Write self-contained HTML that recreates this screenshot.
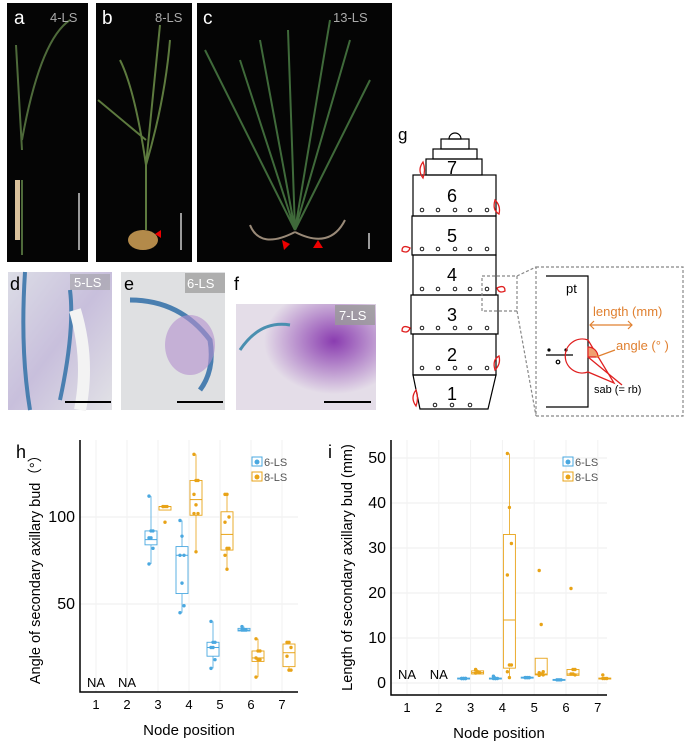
<!DOCTYPE html>
<html><head><meta charset="utf-8"><style>
body{margin:0;background:#fff;width:685px;height:742px;overflow:hidden;font-family:"Liberation Sans",sans-serif}
svg{position:absolute;left:0;top:0}
</style></head><body>
<svg width="685" height="742" viewBox="0 0 685 742">
<defs>
<linearGradient id="stain" x1="0" y1="0" x2="1" y2="1"><stop offset="0" stop-color="#dcdde6"/><stop offset="0.5" stop-color="#c8bfdc"/><stop offset="1" stop-color="#e2e2e6"/></linearGradient>
<radialGradient id="purp" cx="0.7" cy="0.35" r="0.5"><stop offset="0" stop-color="#8a3cb0"/><stop offset="1" stop-color="#e4dde8"/></radialGradient>
</defs>
<g><rect x="7" y="3" width="81" height="259" fill="#050505"/><path d="M22 255 L22 180 M22 150 L16 45 M22 140 Q40 40 70 20" stroke="#4e6a3a" stroke-width="2" fill="none"/><rect x="15" y="180" width="5" height="60" fill="#d9c09a"/><line x1="79" y1="193" x2="79" y2="250" stroke="#fff" stroke-width="1.2"/><text x="14" y="24" fill="#fff" font-size="19">a</text><text x="50" y="22" fill="#aaa" font-size="13">4-LS</text></g>
<g><rect x="96" y="3" width="96" height="259" fill="#050505"/><path d="M146 230 L146 165 L160 25 M146 165 Q135 90 120 60 M146 165 Q165 100 170 40 M146 140 Q110 110 98 100" stroke="#5d7a3e" stroke-width="2" fill="none"/><ellipse cx="143" cy="240" rx="15" ry="10" fill="#b38a4a"/><path d="M155 234 L161 230 L161 238Z" fill="#e00"/><line x1="181" y1="213" x2="181" y2="250" stroke="#fff" stroke-width="1.2"/><text x="102" y="24" fill="#fff" font-size="19">b</text><text x="155" y="22" fill="#aaa" font-size="13">8-LS</text></g>
<g><rect x="197" y="3" width="195" height="259" fill="#050505"/><path d="M295 230 L288 30 M295 230 L240 60 M295 230 L205 50 M295 230 L350 40 M295 230 L370 80 M295 230 L260 40 M295 230 L330 20" stroke="#3f6a3a" stroke-width="2" fill="none"/><path d="M295 232 Q260 250 250 225 M295 232 Q330 250 345 220" stroke="#9a8a78" stroke-width="2" fill="none"/><path d="M282 240 L290 244 L284 250Z M313 248 L318 240 L323 248Z" fill="#e00"/><line x1="369" y1="233" x2="369" y2="249" stroke="#fff" stroke-width="1.2"/><text x="203" y="24" fill="#fff" font-size="19">c</text><text x="333" y="22" fill="#aaa" font-size="13">13-LS</text></g>
<g><rect x="8" y="272" width="104" height="138" fill="url(#stain)"/><path d="M25 272 Q20 350 30 410 M70 290 Q75 330 60 400" stroke="#4a7fb0" stroke-width="4" fill="none"/><path d="M75 310 Q90 360 80 410" stroke="#f3f3f3" stroke-width="12" fill="none"/><rect x="70" y="274" width="40" height="16" fill="#999" opacity="0.5"/><text x="74" y="287" fill="#fff" font-size="13">5-LS</text><text x="10" y="290" font-size="18">d</text><line x1="65" y1="402" x2="111" y2="402" stroke="#000" stroke-width="2"/></g>
<g><rect x="121" y="272" width="104" height="138" fill="#dfe0e2"/><path d="M130 300 Q180 300 210 340 Q215 370 200 390" stroke="#4a7fb0" stroke-width="5" fill="none"/><ellipse cx="190" cy="345" rx="25" ry="30" fill="#b48fcf" opacity="0.6"/><rect x="185" y="273" width="40" height="20" fill="#999" opacity="0.7"/><text x="187" y="288" fill="#fff" font-size="13">6-LS</text><text x="124" y="290" font-size="18">e</text><line x1="177" y1="402" x2="223" y2="402" stroke="#000" stroke-width="2"/></g>
<g><rect x="236" y="304" width="140" height="106" fill="url(#purp)"/><path d="M240 350 Q260 320 290 325" stroke="#4a8fb0" stroke-width="3" fill="none"/><rect x="335" y="305" width="40" height="20" fill="#999" opacity="0.8"/><text x="339" y="320" fill="#fff" font-size="13">7-LS</text><text x="234" y="290" font-size="18">f</text><line x1="324" y1="402" x2="371" y2="402" stroke="#000" stroke-width="2"/></g>
<g stroke="#000" fill="none" stroke-width="1.2">
<text x="398" y="140" font-size="17" stroke="none" fill="#000">g</text>
<path d="M449 139 A6 6 0 0 1 461 139 Z"/>
<rect x="441" y="139" width="28" height="10"/><rect x="433" y="149" width="44" height="10"/><rect x="426" y="159" width="56" height="16"/>
<rect x="413" y="175" width="83" height="41"/><rect x="412" y="216" width="84" height="39"/><rect x="413" y="255" width="83" height="40"/><rect x="411" y="295" width="87" height="39"/><rect x="413" y="334" width="83" height="41"/>
<path d="M413 375 L496 375 L488 409 L420 409 Z"/>
<g stroke="none" fill="#000" font-size="18" text-anchor="middle"><text x="452" y="174">7</text><text x="452" y="202">6</text><text x="452" y="242">5</text><text x="452" y="281">4</text><text x="452" y="321">3</text><text x="452" y="361">2</text><text x="452" y="400">1</text></g>
<g stroke-width="0.9"><circle cx="422" cy="210" r="1.8"/><circle cx="438" cy="210" r="1.8"/><circle cx="455" cy="210" r="1.8"/><circle cx="470" cy="210" r="1.8"/><circle cx="487" cy="210" r="1.8"/>
<circle cx="422" cy="249" r="1.8"/><circle cx="438" cy="249" r="1.8"/><circle cx="455" cy="249" r="1.8"/><circle cx="470" cy="249" r="1.8"/><circle cx="487" cy="249" r="1.8"/>
<circle cx="422" cy="289" r="1.8"/><circle cx="438" cy="289" r="1.8"/><circle cx="455" cy="289" r="1.8"/><circle cx="470" cy="289" r="1.8"/><circle cx="487" cy="289" r="1.8"/>
<circle cx="422" cy="328" r="1.8"/><circle cx="438" cy="328" r="1.8"/><circle cx="455" cy="328" r="1.8"/><circle cx="470" cy="328" r="1.8"/><circle cx="487" cy="328" r="1.8"/>
<circle cx="422" cy="368" r="1.8"/><circle cx="438" cy="368" r="1.8"/><circle cx="455" cy="368" r="1.8"/><circle cx="470" cy="368" r="1.8"/><circle cx="487" cy="368" r="1.8"/>
<circle cx="435" cy="405" r="1.8"/><circle cx="452" cy="405" r="1.8"/><circle cx="470" cy="405" r="1.8"/></g>
<g stroke="#e02020" stroke-width="1.3"><path d="M423 162 q-6 8 0 16 q3 -8 0 -16Z"/><path d="M495 200 q-3 10 4 14 q2 -8 -4 -14Z"/><path d="M410 248 q-8 -4 -8 3 q6 3 8 -3Z"/><path d="M497 288 q8 -4 8 3 q-6 3 -8 -3Z"/><path d="M410 328 q-8 -4 -8 3 q6 3 8 -3Z"/><path d="M495 370 q-3 -10 4 -14 q2 8 -4 14Z"/><path d="M416 390 q-6 8 0 16 q3 -8 0 -16Z"/></g>
<g stroke="#888" stroke-dasharray="3,2"><rect x="482" y="276" width="35" height="35"/><rect x="536" y="267" width="147" height="149"/><line x1="517" y1="276" x2="536" y2="267"/><line x1="517" y1="311" x2="536" y2="416"/></g>
<path d="M546 276 L588 276 L588 407 L546 407"/>
<line x1="546" y1="355" x2="573" y2="355"/>
<circle cx="549" cy="350" r="1" fill="#000"/><circle cx="566" cy="350" r="1" fill="#000"/><circle cx="558" cy="362" r="1.8"/>
<path d="M588 340 A17 17 0 1 0 588 372 L614 383 Z" stroke="#e02020" stroke-width="1.3"/>
<path d="M588 347 L588 357 L598 357 A10 10 0 0 0 588 347Z" fill="#f0a070" stroke="#e02020"/>
<line x1="588" y1="357" x2="622" y2="385" stroke="#e02020" stroke-width="1.3"/>
<line x1="596" y1="357" x2="615" y2="350" stroke="#e08030"/>
<line x1="590" y1="325" x2="632" y2="325" stroke="#e08030"/><path d="M594 321 L590 325 L594 329 M628 321 L632 325 L628 329" stroke="#e08030"/>
<g stroke="none" font-size="13"><text x="566" y="293" fill="#000">pt</text><text x="593" y="316" fill="#e08030">length (mm)</text><text x="616" y="350" fill="#e08030">angle (°  )</text><text x="594" y="393" fill="#000" font-size="11">sab (= rb)</text></g>
</g>
<g id="charth"></g>
<g id="charti"></g>
</svg>
<script>
const nodes=[1,2,3,4,5,6,7];
const h6pts=[[],[],[112,92,92,88,88,82,73],[98,89,78,78,62,49,45],[40,28,28,25,25,18,13],[37,35,35,35],[]];
const h6box=[null,null,[84,87,92],[56,78,83],[20,25,28],[34.5,35,36],null];
const h6whisk=[null,null,[73,112],[45,98],[13,40],[35,37],null];
const h8pts=[[],[],[106,106,106,106,97],[136,121,121,113,107,102,102,80],[113,113,100,97,82,82,78,70],[30,23,23,19,18,18,8],[28,28,25,20,12,12]];
const h8box=[null,null,[104,106,106],[101,110,121],[81,90,103],[17,19,23],[14,22,27]];
const h8whisk=[null,null,[104,106],[80,136],[70,113],[8,30],[12,28]];
const hTicks=[50,100];
const i6pts=[[],[],[1,1,1,1,1,1],[1.5,1,1,1,1],[1.2,1.2,1.2,1.2,1.2,1.2],[0.7,0.7,0.7],[]];
const i6box=[null,null,[0.9,1,1.1],[0.9,1,1.1],[1.1,1.2,1.3],[0.6,0.7,0.8],null];
const i6whisk=[null,null,[1,1],[1,1.5],[1.2,1.2],[0.7,0.7],null];
const i8pts=[[],[],[3,2.5,2.3,2.2],[51,39,31,24,4,4,2.5,1.2],[25,13,2.5,2.3,2,1.8,1.7],[21,3,3,2,2,1.8],[1.8,1,1,1]];
const i8box=[null,null,[2,2.3,2.7],[3.3,14,33],[1.8,2,5.5],[1.7,2,3],[0.9,1,1.1]];
const i8whisk=[null,null,[2.2,3],[1.2,51],[1.7,5.5],[1.8,3],[1,1.1]];
const iTicks=[0,10,20,30,40,50];
const NS='http://www.w3.org/2000/svg';
function mk(p,tag,a,txt){const e=document.createElementNS(NS,tag);for(const k in a)e.setAttribute(k,a[k]);if(txt!==undefined)e.textContent=txt;p.appendChild(e);return e;}
function chart(g,o){
  const X=n=>o.x0+(n-1)*o.dx, Y=v=>o.y0-(v-o.vmin)*o.k;
  o.ticks.forEach(t=>{const l=mk(g,'line',{x1:o.ax,x2:o.right,y1:Y(t),y2:Y(t),stroke:'#eee'});
    
    
    const tx=mk(g,'text',{x:o.ax-5,y:Y(t)+5,'text-anchor':'end','font-size':16},t);
    
    });
  nodes.forEach(n=>{mk(g,'line',{x1:X(n),x2:X(n),y1:o.top,y2:o.bot,stroke:'#f2f2f2'});
    const tx=mk(g,'text',{x:X(n),y:o.bot+17,'text-anchor':'middle','font-size':13},n);
    
    });
  mk(g,'path',{d:`M${o.ax} ${o.top} L${o.ax} ${o.bot} L${o.right} ${o.bot}`,stroke:'#000','stroke-width':1.5,fill:'none'});
  [[o.b6,o.w6,o.p6,'#4aa8e0',-7],[o.b8,o.w8,o.p8,'#e8a317',7]].forEach(([bx,wk,pts,c,off])=>{
    nodes.forEach((n,i)=>{const cx=X(n)+off;
      if(bx[i]){const [q1,m,q3]=bx[i];const [lo,hi]=wk[i];
        mk(g,'line',{x1:cx,x2:cx,y1:Y(hi),y2:Y(lo),stroke:c,'stroke-width':0.8});
        const r=mk(g,'rect',{x:cx-6,y:Y(q3),width:12,height:Math.max(1,Y(q1)-Y(q3)),fill:'#fff',stroke:c,'stroke-width':0.9});
        
        
        mk(g,'line',{x1:cx-6,x2:cx+6,y1:Y(m),y2:Y(m),stroke:c});}
      pts[i].forEach((v,j)=>{const d=mk(g,'circle',{cx:cx+((j%3)-1)*2,cy:Y(v),r:1.7,fill:c});
        
        });
    });
  });
  [1,2].forEach(n=>mk(g,'text',{x:X(n),y:o.y0-4,'text-anchor':'middle','font-size':13},'NA'));
  const lg=mk(g,'g',{});
  
  
  [['6-LS','#4aa8e0'],['8-LS','#e8a317']].forEach(([t,c],i)=>{const y=o.top+22+i*15;
    mk(lg,'rect',{x:o.lx,y:y-5,width:10,height:9,fill:'#fff',stroke:c});mk(lg,'circle',{cx:o.lx+5,cy:y,r:2.5,fill:c});
    mk(lg,'text',{x:o.lx+12,y:y+4,'font-size':11,fill:'#555'},t);});
  const xt=mk(g,'text',{x:(o.ax+o.right)/2,y:o.bot+43,'text-anchor':'middle','font-size':15},'Node position');
  
  
  const yt=mk(g,'text',{transform:`translate(${o.ytx},${(o.top+o.bot)/2}) rotate(-90)`,'text-anchor':'middle','font-size':14.5},o.ytitle);
  
  
  mk(g,'text',{x:o.lblx,y:o.top+18,'font-size':18},o.lbl);
}
chart(document.getElementById('charth'),{x0:96,dx:31,y0:691,vmin:0,k:1.74,ax:80,right:298,top:440,bot:692,ticks:hTicks,p6:h6pts,b6:h6box,w6:h6whisk,p8:h8pts,b8:h8box,w8:h8whisk,lx:252,ytx:40,ytitle:'Angle of secondary axillary bud（°）',lbl:'h',lblx:16});
chart(document.getElementById('charti'),{x0:407,dx:31.8,y0:683,vmin:0,k:4.5,ax:391,right:607,top:440,bot:695,ticks:iTicks,p6:i6pts,b6:i6box,w6:i6whisk,p8:i8pts,b8:i8box,w8:i8whisk,lx:563,ytx:352,ytitle:'Length of secondary axillary bud (mm)',lbl:'i',lblx:328});
</script>
</body></html>
